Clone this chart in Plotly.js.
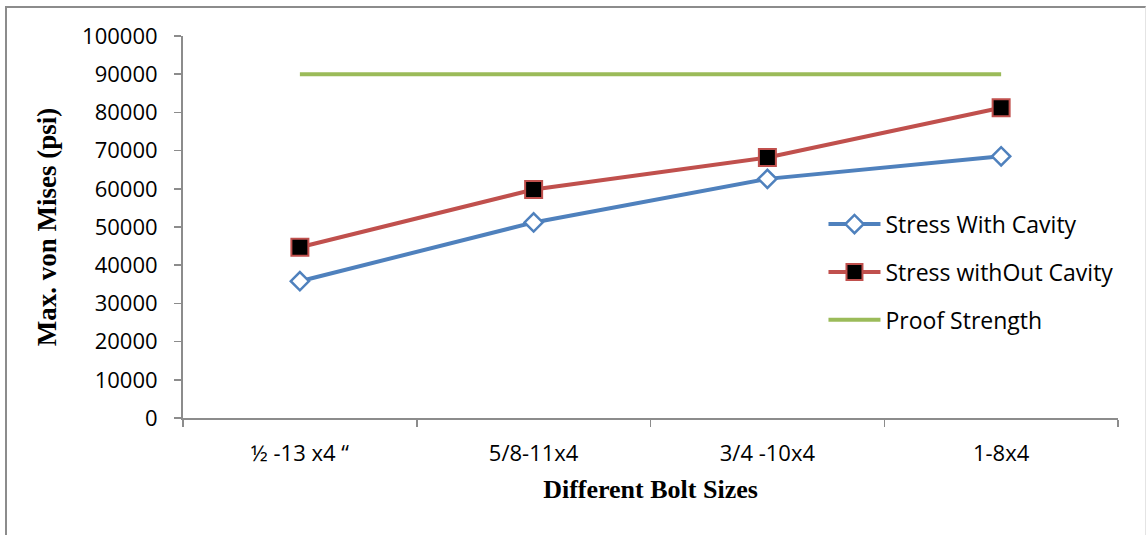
<!DOCTYPE html>
<html>
<head>
<meta charset="utf-8">
<script src="https://cdn.plot.ly/plotly-3.0.1.min.js"></script>
<style>
  body { margin: 0; background: #fff; }
  #wrap { position: relative; width: 1146px; height: 535px; }
  #chart { width: 1146px; height: 535px; }
  #frame { position: absolute; left: 5px; top: 6px; width: 1138px; height: 540px;
           border-left: 2px solid #8c8c8c; border-top: 2px solid #8c8c8c; border-right: 1px solid #e4e4e4;
           pointer-events: none; }
</style>
</head>
<body>
<div id="wrap">
  <div id="chart"></div>
  <div id="frame"></div>
</div>
<script>
const categories = ["½ -13 x4 “", "5/8-11x4", "3/4 -10x4", "1-8x4"];
const withCavity = [35800, 51200, 62600, 68500];
const withoutCavity = [44700, 59800, 68200, 81200];
const proofStrength = [90000, 90000, 90000, 90000];
const yTicks = [0, 10000, 20000, 30000, 40000, 50000, 60000, 70000, 80000, 90000, 100000];

const tickFont = {family: "Open Sans, Noto Sans, sans-serif", size: 22, color: "#000"};
const titleFamily = "Liberation Serif, Times New Roman, serif";

const traces = [
  {
    x: categories, y: withCavity, name: "Stress With Cavity", type: "scatter", mode: "lines+markers",
    legendgroup: "a",
    line: {color: "#4F81BD", width: 4},
    marker: {symbol: "diamond", size: 14, color: "#ffffff", line: {color: "#4F81BD", width: 2.5}}
  },
  {
    x: categories, y: withoutCavity, name: "Stress withOut Cavity", type: "scatter", mode: "lines+markers",
    legendgroup: "b",
    line: {color: "#C0504D", width: 4},
    marker: {symbol: "square", size: 17, color: "#000000", line: {color: "#C0504D", width: 2}}
  },
  {
    x: categories, y: proofStrength, name: "Proof Strength", type: "scatter", mode: "lines",
    legendgroup: "c",
    line: {color: "#9BBB59", width: 4}
  }
];

const layout = {
  width: 1146, height: 535,
  margin: {l: 183, r: 28, t: 36, b: 117},
  paper_bgcolor: "#ffffff", plot_bgcolor: "#ffffff",
  showlegend: true,
  legend: {
    x: 0.685, y: 0.382, xanchor: "left", yanchor: "middle",
    font: {family: "Open Sans, Noto Sans, sans-serif", size: 23, color: "#000"},
    traceorder: "grouped", tracegroupgap: 15,
    bgcolor: "rgba(0,0,0,0)", itemwidth: 52
  },
  xaxis: {
    type: "category", range: [-0.5, 3.5],
    tickson: "boundaries", ticks: "outside", ticklen: 7, tickcolor: "#8c8c8c", tickwidth: 1.5,
    showline: true, linecolor: "#8c8c8c", linewidth: 2, showgrid: false, zeroline: false,
    tickfont: tickFont, ticklabelstandoff: 15,
    title: {text: "Different Bolt Sizes", font: {family: titleFamily, size: 26, color: "#000", weight: "bold"}, standoff: 13}
  },
  yaxis: {
    range: [0, 100000], tickvals: yTicks, ticktext: yTicks.map(String),
    ticks: "outside", ticklen: 7, tickcolor: "#8c8c8c", tickwidth: 1.5,
    showline: true, linecolor: "#8c8c8c", linewidth: 2, showgrid: false, zeroline: false,
    tickfont: tickFont, ticklabelstandoff: 12,
    title: {text: "Max. von Mises (psi)", font: {family: titleFamily, size: 27, color: "#000", weight: "bold"}, standoff: 18}
  }
};

Plotly.newPlot("chart", traces, layout, {displayModeBar: false, staticPlot: true});
</script>
</body>
</html>
